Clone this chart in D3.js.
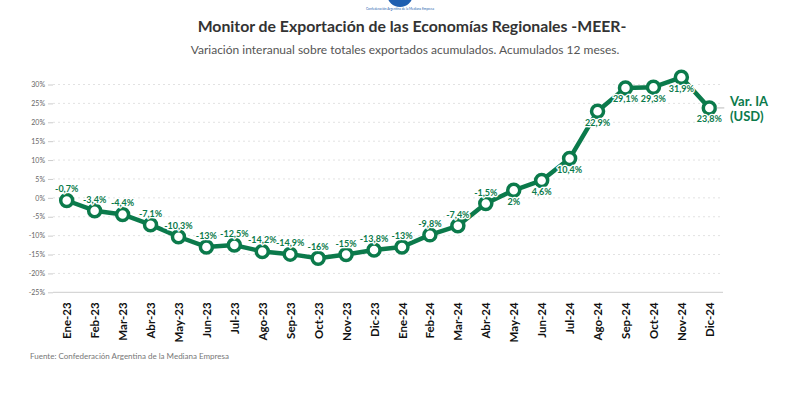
<!DOCTYPE html>
<html>
<head>
<meta charset="utf-8">
<script src="https://cdnjs.cloudflare.com/ajax/libs/d3/7.8.5/d3.min.js"></script>
<style>
  body { margin: 0; background: #fff; }
  svg { display: block; font-family: Lato, "Open Sans", sans-serif; }
</style>
</head>
<body>
<svg id="chart" width="800" height="398"></svg>
<script>
// data
const months = ['Ene-23','Feb-23','Mar-23','Abr-23','May-23','Jun-23','Jul-23','Ago-23','Sep-23','Oct-23','Nov-23','Dic-23',
                'Ene-24','Feb-24','Mar-24','Abr-24','May-24','Jun-24','Jul-24','Ago-24','Sep-24','Oct-24','Nov-24','Dic-24'];
const varIA = [-0.7,-3.4,-4.4,-7.1,-10.3,-13,-12.5,-14.2,-14.9,-16,-15,-13.8,
               -13,-9.8,-7.4,-1.5,2,4.6,10.4,22.9,29.1,29.3,31.9,23.8];
const labelsBelow = ['May-24','Jun-24','Jul-24','Ago-24','Sep-24','Oct-24','Nov-24','Dic-24'];
const yTicks = [30,25,20,15,10,5,0,-5,-10,-15,-20,-25];

const green = '#0b7a4b';
const svg = d3.select('#chart');

const x = d3.scalePoint().domain(months).range([66.7, 709.3]);
const y = d3.scaleLinear().domain([-25, 30]).range([292.3, 84.5]);

const fmt = v => String(v).replace('.', ',') + '%';

// logo
svg.append('circle').attr('cx', 400).attr('cy', -6).attr('r', 13).attr('fill', '#1f5fb0');
svg.append('text').attr('x', 400).attr('y', 10).attr('text-anchor', 'middle')
  .attr('font-size', 3.2).attr('fill', '#1f5fb0')
  .text('Confederación Argentina de la Mediana Empresa');

// titles
svg.append('text').attr('x', 412).attr('y', 32).attr('text-anchor', 'middle')
  .attr('font-size', 15.8).attr('font-weight', 'bold').attr('fill', '#333')
  .text('Monitor de Exportación de las Economías Regionales -MEER-');
svg.append('text').attr('x', 405).attr('y', 54).attr('text-anchor', 'middle')
  .attr('font-size', 12).attr('fill', '#555')
  .text('Variación interanual sobre totales exportados acumulados. Acumulados 12 meses.');

// y axis with grid
const yAxis = svg.append('g').attr('transform', 'translate(53,0)')
  .call(d3.axisLeft(y).tickValues(yTicks).tickSize(5).tickPadding(3).tickFormat(d => d + '%'));
yAxis.select('.domain').remove();
yAxis.selectAll('.tick line').attr('stroke', '#ccc');
yAxis.selectAll('.tick text').attr('font-size', 7).attr('fill', '#666').attr('font-family', 'Lato, sans-serif');

svg.append('g').selectAll('line').data(yTicks.filter(d => d !== -25)).join('line')
  .attr('x1', 53).attr('x2', 723)
  .attr('y1', d => y(d)).attr('y2', d => y(d))
  .attr('stroke', '#e2e2e2').attr('stroke-dasharray', '2,3');
svg.append('line').attr('x1', 53).attr('x2', 723).attr('y1', y(-25)).attr('y2', y(-25))
  .attr('stroke', '#d6d6d6').attr('stroke-width', 1.2);

// x axis
const xAxis = svg.append('g').attr('transform', `translate(0,${y(-25)})`)
  .call(d3.axisBottom(x).tickSize(0).tickPadding(0));
xAxis.select('.domain').remove();
xAxis.selectAll('.tick text')
  .attr('transform', 'rotate(-90)')
  .attr('text-anchor', 'end')
  .attr('x', -10).attr('y', 0).attr('dy', '0.35em')
  .attr('font-size', 11.5).attr('font-weight', 'bold').attr('fill', '#111')
  .attr('font-family', 'Lato, sans-serif');

// line
const pts = months.map((m, i) => ({ m, v: varIA[i] }));
svg.append('path').datum(pts)
  .attr('fill', 'none').attr('stroke', green).attr('stroke-width', 4.5).attr('stroke-linejoin', 'round')
  .attr('d', d3.line().x(d => x(d.m)).y(d => y(d.v)));

svg.append('g').selectAll('circle').data(pts).join('circle')
  .attr('cx', d => x(d.m)).attr('cy', d => y(d.v)).attr('r', 6)
  .attr('fill', '#fff').attr('stroke', green).attr('stroke-width', 3.5);

// value labels
svg.append('g').selectAll('text').data(pts).join('text')
  .attr('x', d => x(d.m))
  .attr('y', d => y(d.v) + (labelsBelow.includes(d.m) ? 14.5 : -8))
  .attr('text-anchor', 'middle')
  .attr('font-size', 9).attr('font-weight', 'bold').attr('fill', green)
  .attr('stroke', '#fff').attr('stroke-width', 2.5).attr('paint-order', 'stroke')
  .text(d => fmt(d.v));

// series label
const last = pts[pts.length - 1];
svg.append('line').attr('x1', x(last.m) + 7).attr('x2', x(last.m) + 15)
  .attr('y1', y(last.v)).attr('y2', y(last.v)).attr('stroke', '#bbb');
svg.append('text').attr('x', 730).attr('y', y(last.v) - 2)
  .attr('font-size', 13).attr('font-weight', 'bold').attr('fill', green)
  .selectAll('tspan').data(['Var. IA', '(USD)']).join('tspan')
  .attr('x', 730).attr('dy', (d, i) => i ? 15 : 0).text(d => d);

// source
svg.append('text').attr('x', 30).attr('y', 359)
  .attr('font-size', 8).attr('fill', '#777')
  .text('Fuente: Confederación Argentina de la Mediana Empresa');
</script>
</body>
</html>
